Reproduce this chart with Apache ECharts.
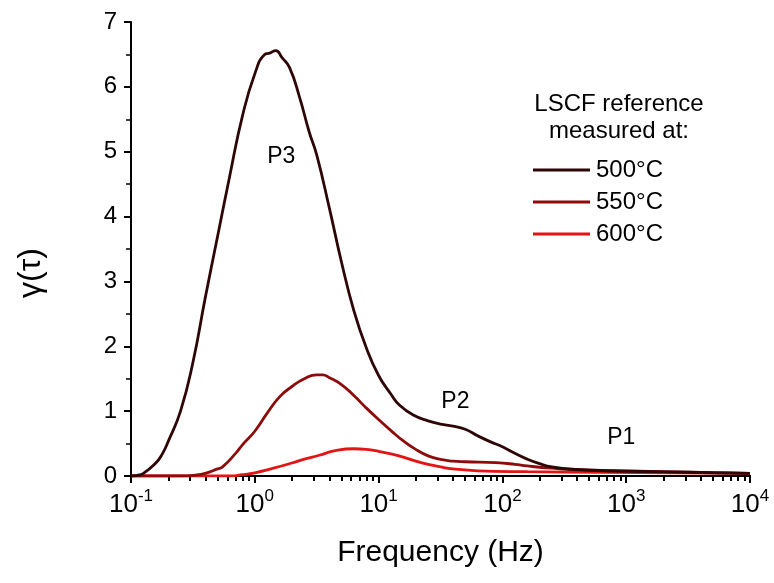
<!DOCTYPE html>
<html>
<head>
<meta charset="utf-8">
<script src="https://cdn.jsdelivr.net/npm/echarts@6/dist/echarts.min.js"></script>
<style>
html,body{margin:0;padding:0;background:#fff;}
#c{width:774px;height:583px;}
</style>
</head>
<body>
<div id="c"></div>
<script>
// log10 of frequency (Hz) and distribution values
const log10Freq500 = [-1.0,-0.95,-0.9,-0.8,-0.75,-0.7,-0.6,-0.5,-0.4,-0.3,-0.2,-0.1,0.0,0.08,0.12,0.17,0.22,0.28,0.36,0.44,0.5,0.6,0.7,0.8,0.9,1.0,1.1,1.17,1.28,1.4,1.5,1.6,1.7,1.8,1.9,2.0,2.1,2.2,2.3,2.4,2.6,2.9,3.3,3.7,4.0];
const gamma500 =     [0.0,0.01,0.04,0.20,0.33,0.53,1.0,1.75,2.75,3.7,4.65,5.55,6.2,6.5,6.52,6.56,6.45,6.3,5.85,5.3,4.95,4.15,3.3,2.55,1.98,1.55,1.26,1.09,0.94,0.85,0.8,0.77,0.72,0.62,0.53,0.45,0.35,0.26,0.19,0.14,0.10,0.077,0.065,0.05,0.04];

const log10Freq550 = [-1.0,-0.6,-0.45,-0.4,-0.3,-0.26,-0.15,-0.1,0.0,0.1,0.2,0.3,0.4,0.5,0.55,0.6,0.7,0.8,0.9,1.0,1.1,1.2,1.3,1.4,1.5,1.6,1.7,1.95,2.1,2.2,2.4,2.65,3.2,3.6,4.0];
const gamma550 =     [0.0,0.0,0.02,0.04,0.11,0.14,0.36,0.48,0.69,0.97,1.22,1.38,1.50,1.56,1.56,1.52,1.41,1.24,1.05,0.87,0.70,0.54,0.41,0.31,0.255,0.23,0.22,0.205,0.18,0.155,0.12,0.093,0.072,0.055,0.04];

const log10Freq600 = [-1.0,-0.2,-0.1,0.0,0.15,0.3,0.4,0.52,0.65,0.8,0.9,1.0,1.1,1.2,1.3,1.4,1.5,1.6,1.8,2.2,2.8,3.4,4.0];
const gamma600 =     [0.0,0.0,0.02,0.05,0.12,0.2,0.26,0.32,0.39,0.42,0.41,0.38,0.34,0.29,0.23,0.18,0.14,0.11,0.08,0.066,0.057,0.05,0.04];

const seriesNames = ['500°C','550°C','600°C'];
const seriesColors = ['#2e0606','#8c0c0c','#e31414'];

const xDecades = [-1,0,1,2,3,4];
const yTicks = [0,1,2,3,4,5,6,7];
const minorMultipliers = [2,3,4,5,6,7,8,9];

const peakLabels = ['P3','P2','P1'];
const peakLog10Freq = [0.214,1.62,2.96];
const peakGamma = [4.92,1.14,0.586];

const legendTitle = ['LSCF reference','measured at:'];

const FONT = 'Arial, "Liberation Sans", sans-serif';

// minor tick positions on the log frequency axis (2..9 within each decade)
const minorTickVals = [];
for (let n = xDecades[0]; n < xDecades[xDecades.length-1]; n++) {
  minorMultipliers.forEach(k => minorTickVals.push(n + Math.log10(k)));
}

const chart = echarts.init(document.getElementById('c'));

function pairs(xs, ys){ return xs.map((x,i)=>[x, ys[i]]); }

const option = {
  backgroundColor: '#fff',
  animation: false,
  grid: {left: 131, right: 24, top: 22, bottom: 107},
  legend: {
    orient: 'vertical',
    left: 528,
    top: 153,
    itemWidth: 57,
    itemHeight: 3,
    itemGap: 8,
    icon: 'rect',
    textStyle: {fontFamily: FONT, fontSize: 24, lineHeight: 24, color: '#000', padding: [0,0,0,1]},
    data: seriesNames
  },
  graphic: [
    {type:'text', x: 619, y: 104, style:{text: legendTitle[0], font: '24px ' + FONT, fill:'#000', textAlign:'center', textVerticalAlign:'middle'}},
    {type:'text', x: 619, y: 131, style:{text: legendTitle[1], font: '24px ' + FONT, fill:'#000', textAlign:'center', textVerticalAlign:'middle'}}
  ],
  xAxis: [
    {
      type: 'value', min: xDecades[0], max: xDecades[xDecades.length-1], interval: 1,
      name: 'Frequency (Hz)', nameLocation: 'middle', nameGap: 62,
      nameTextStyle: {fontFamily: FONT, fontSize: 30, color: '#000'},
      axisLine: {show: true, onZero: false, lineStyle: {color: '#000', width: 2}},
      axisTick: {show: true, length: 7, lineStyle: {color: '#000', width: 2}},
      splitLine: {show: false},
      axisLabel: {
        margin: 12,
        formatter: v => '{b|10}{s|' + String(Math.round(v)) + '}',
        rich: {
          b: {fontFamily: FONT, fontSize: 26, color: '#000', lineHeight: 30, verticalAlign: 'bottom'},
          s: {fontFamily: FONT, fontSize: 17, color: '#000', lineHeight: 30, verticalAlign: 'top', padding: [0,0,12,0]}
        }
      }
    },
    {
      // minor log ticks
      type: 'value', min: xDecades[0], max: xDecades[xDecades.length-1], position: 'bottom',
      axisLine: {show: true, onZero: false, lineStyle: {color: '#000', width: 2}},
      axisLabel: {show: true, customValues: minorTickVals, formatter: () => ''},
      splitLine: {show: false},
      axisTick: {show: true, length: 5, customValues: minorTickVals, lineStyle: {color: '#000', width: 2}}
    }
  ],
  yAxis: {
    type: 'value', min: 0, max: 7, interval: 1,
    name: 'γ(τ)', nameLocation: 'middle', nameGap: 84,
    nameTextStyle: {fontFamily: FONT, fontSize: 32, color: '#000', padding: [0,48,0,0]},
    axisLine: {show: true, onZero: false, lineStyle: {color: '#000', width: 2}},
    axisTick: {show: true, length: 7, lineStyle: {color: '#000', width: 2}},
    minorTick: {show: true, splitNumber: 2, length: 5, lineStyle: {color: '#000', width: 1.5}},
    splitLine: {show: false},
    axisLabel: {fontFamily: FONT, fontSize: 24, color: '#000', margin: 14, formatter: v => String(yTicks[v] !== undefined ? yTicks[v] : v)}
  },
  series: [
    {
      name: seriesNames[2], type: 'line', smooth: 0.5, symbol: 'none', z: 3,
      lineStyle: {color: seriesColors[2], width: 2.8}, itemStyle: {color: seriesColors[2]},
      data: pairs(log10Freq600, gamma600)
    },
    {
      name: seriesNames[1], type: 'line', smooth: 0.5, symbol: 'none', z: 4,
      lineStyle: {color: seriesColors[1], width: 2.8}, itemStyle: {color: seriesColors[1]},
      data: pairs(log10Freq550, gamma550)
    },
    {
      name: seriesNames[0], type: 'line', smooth: 0.5, symbol: 'none', z: 5,
      lineStyle: {color: seriesColors[0], width: 2.8}, itemStyle: {color: seriesColors[0]},
      data: pairs(log10Freq500, gamma500),
      markPoint: {
        symbol: 'circle', symbolSize: 0, silent: true,
        label: {show: true, position: 'inside', fontFamily: FONT, fontSize: 23, color: '#000', formatter: p => p.name},
        data: peakLabels.map((t,i)=>({name: t, coord: [peakLog10Freq[i], peakGamma[i]]}))
      }
    }
  ]
};
chart.setOption(option);
</script>
</body>
</html>
